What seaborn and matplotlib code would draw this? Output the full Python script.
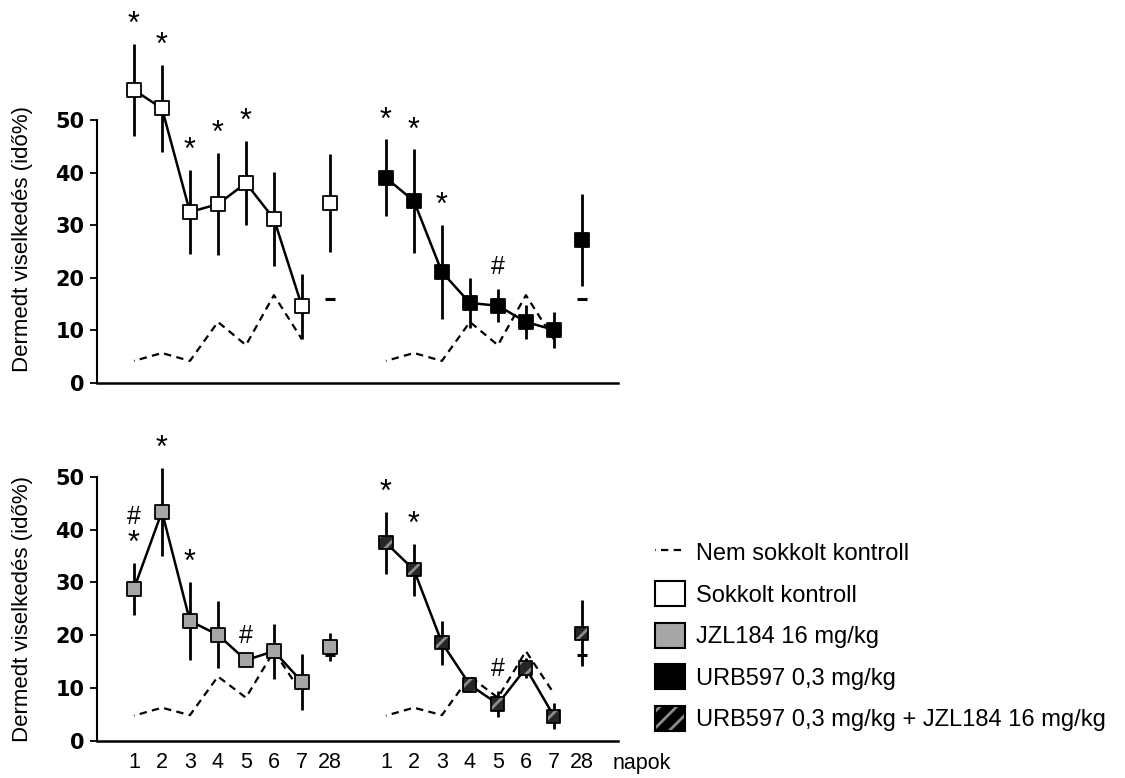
import numpy as np
import pandas as pd
import matplotlib
matplotlib.use("Agg")
import matplotlib.pyplot as plt
import seaborn as sns
from matplotlib.lines import Line2D
from matplotlib.patches import Patch

# ---------------- data ----------------
days = ["1", "2", "3", "4", "5", "6", "7", "28"]
pos_left = [1, 2, 3, 4, 5, 6, 7, 8]
pos_right = [10, 11, 12, 13, 14, 15, 16, 17]

# non-shocked control (dashed), days 1-7 and day 28
ctrl_top = [4.2, 5.7, 4.2, 11.6, 7.2, 16.7, 8.3]
ctrl_top_28 = 16.0
ctrl_bot = [4.8, 6.3, 4.9, 12.2, 8.2, 17.0, 9.0]
ctrl_bot_28 = 16.3

# shocked control (white)
sok_mean = [55.7, 52.2, 32.5, 34.0, 38.0, 31.2, 14.6, 34.2]
sok_err = [8.7, 8.2, 8.0, 9.7, 8.0, 9.0, 6.2, 9.3]
sok_sig = ["*", "*", "*", "*", "*", "", "", ""]

# URB597 0,3 mg/kg (black)
urb_mean = [39.0, 34.6, 21.1, 15.2, 14.7, 11.6, 10.1, 27.2]
urb_err = [7.3, 9.8, 9.0, 4.7, 3.2, 3.3, 3.4, 8.8]
urb_sig = ["*", "*", "*", "", "#", "", "", ""]

# JZL184 16 mg/kg (grey)
jzl_mean = [28.8, 43.4, 22.7, 20.1, 15.3, 17.0, 11.2, 17.8]
jzl_err = [4.9, 8.3, 7.4, 6.3, 0.5, 5.2, 5.3, 2.7]
jzl_sig = ["#*", "*", "*", "", "#", "", "", ""]

# URB597 + JZL184 (hatched)
comb_mean = [37.5, 32.4, 18.6, 10.6, 7.0, 13.8, 4.7, 20.4]
comb_err = [5.9, 4.9, 4.2, 1.0, 2.5, 1.9, 2.5, 6.2]
comb_sig = ["*", "*", "", "", "#", "", "", ""]

legend_labels = ["Nem sokkolt kontroll", "Sokkolt kontroll", "JZL184 16 mg/kg",
                 "URB597 0,3 mg/kg", "URB597 0,3 mg/kg + JZL184 16 mg/kg"]

# ---------------- style ----------------
sns.set_style("white")
plt.rcParams["font.family"] = ["Liberation Sans", "DejaVu Sans"]
plt.rcParams["text.color"] = "black"
plt.rcParams["axes.labelcolor"] = "black"
plt.rcParams["xtick.color"] = "black"
plt.rcParams["ytick.color"] = "black"
plt.rcParams["hatch.linewidth"] = 2.0
plt.rcParams["hatch.color"] = "#8c8c8c"

W, H = 1125, 778
fig = plt.figure(figsize=(W / 100, H / 100), dpi=100)
ax_top = fig.add_axes([97 / W, 1 - 383 / H, 521 / W, 383 / H])
ax_bot = fig.add_axes([97 / W, 1 - 741 / H, 521 / W, 316 / H])

DASH = (3.0, (3.3, 2.4))
GREY = "#a6a6a6"
MS = 9.5


def draw_group(ax, xs, mean, err, ctrl, c28, face, sig, hatched=False):
    n = len(ctrl)
    # dashed non-shocked control
    sns.lineplot(x=xs[:n], y=ctrl, ax=ax, color="black", lw=1.6,
                 linestyle=DASH, zorder=2)
    ax.plot([xs[n]], [c28], marker="_", ms=7, mew=2.2, color="black",
            ls="none", zorder=2)
    # error bars
    ax.errorbar(xs, mean, yerr=err, fmt="none", ecolor="black",
                elinewidth=2.0, capsize=0, zorder=3)
    # connecting line for days 1-7
    sns.lineplot(x=xs[:n], y=mean[:n], ax=ax, color="black", lw=1.8, zorder=4)
    # markers
    s = MS ** 2
    if hatched:
        sns.scatterplot(x=xs, y=mean, ax=ax, marker="s", s=s, color="#262626",
                        edgecolor="#8c8c8c", linewidth=0, hatch="//", zorder=5)
        sns.scatterplot(x=xs, y=mean, ax=ax, marker="s", s=s, facecolor="none",
                        edgecolor="black", linewidth=1.3, zorder=6)
    else:
        sns.scatterplot(x=xs, y=mean, ax=ax, marker="s", s=s, color=face,
                        edgecolor="black", linewidth=1.3, zorder=5)
    # significance symbols
    for x, m, e, sym in zip(xs, mean, err, sig):
        top = m + e
        if "*" in sym:
            ax.annotate("*", xy=(x, top), xytext=(0, 11), textcoords="offset pixels",
                        ha="center", va="baseline", fontsize=22, zorder=7)
        if "#" in sym:
            off = 39 if "*" in sym else 15
            ax.annotate("#", xy=(x, top), xytext=(0, off), textcoords="offset pixels",
                        ha="center", va="baseline", fontsize=18, zorder=7)


draw_group(ax_top, pos_left, sok_mean, sok_err, ctrl_top, ctrl_top_28, "white", sok_sig)
draw_group(ax_top, pos_right, urb_mean, urb_err, ctrl_top, ctrl_top_28, "black", urb_sig)
draw_group(ax_bot, pos_left, jzl_mean, jzl_err, ctrl_bot, ctrl_bot_28, GREY, jzl_sig)
draw_group(ax_bot, pos_right, comb_mean, comb_err, ctrl_bot, ctrl_bot_28, "#262626",
           comb_sig, hatched=True)

for ax, ytop, lab_y in [(ax_top, 72.8, 0.376), (ax_bot, 59.8, 0.418)]:
    ax.set_xlim(-0.32, 18.29)
    ax.set_ylim(0, ytop)
    sns.despine(ax=ax)
    ax.spines["left"].set_bounds(0, 50)
    ax.spines["left"].set_linewidth(1.5)
    ax.spines["bottom"].set_linewidth(1.8)
    ax.spines["left"].set_color("black")
    ax.spines["bottom"].set_color("black")
    ax.set_yticks([0, 10, 20, 30, 40, 50])
    ax.set_yticklabels(["0", "10", "20", "30", "40", "50"],
                       fontdict={"family": "DejaVu Sans", "weight": "bold", "size": 15})
    ax.tick_params(axis="y", direction="out", length=5, width=1.3, pad=4,
                   left=True, colors="black")
    ax.set_ylabel("Dermedt viselkedés (idő%)", fontsize=16, color="black")
    ax.yaxis.set_label_coords(-0.123, lab_y)
    ax.grid(False)
    ax.set_xlabel("")

ax_top.set_xticks([])
ax_bot.set_xticks(pos_left + pos_right)
ax_bot.set_xticklabels(days + days, fontsize=15.5)
ax_bot.tick_params(axis="x", length=0, pad=8, bottom=True, colors="black")

fig.text(613 / W, 1 - 769 / H, "napok", fontsize=15.5, va="baseline", ha="left")

# legend
handles = [
    Line2D([], [], color="black", lw=1.6, linestyle=DASH),
    Patch(facecolor="white", edgecolor="black", linewidth=1.5),
    Patch(facecolor=GREY, edgecolor="black", linewidth=1.5),
    Patch(facecolor="black", edgecolor="black", linewidth=1.5),
    (Patch(facecolor="black", edgecolor="#8c8c8c", hatch="//", linewidth=0),
     Patch(facecolor="none", edgecolor="black", linewidth=1.5)),
]
fig.legend(handles, legend_labels, loc="upper left",
           bbox_to_anchor=(655 / W, 1 - 540 / H), frameon=False, fontsize=17,
           handlelength=1.25, handleheight=1.25, handletextpad=0.5,
           labelspacing=0.68, borderpad=0, borderaxespad=0)

fig.savefig("out.png", dpi=100)
